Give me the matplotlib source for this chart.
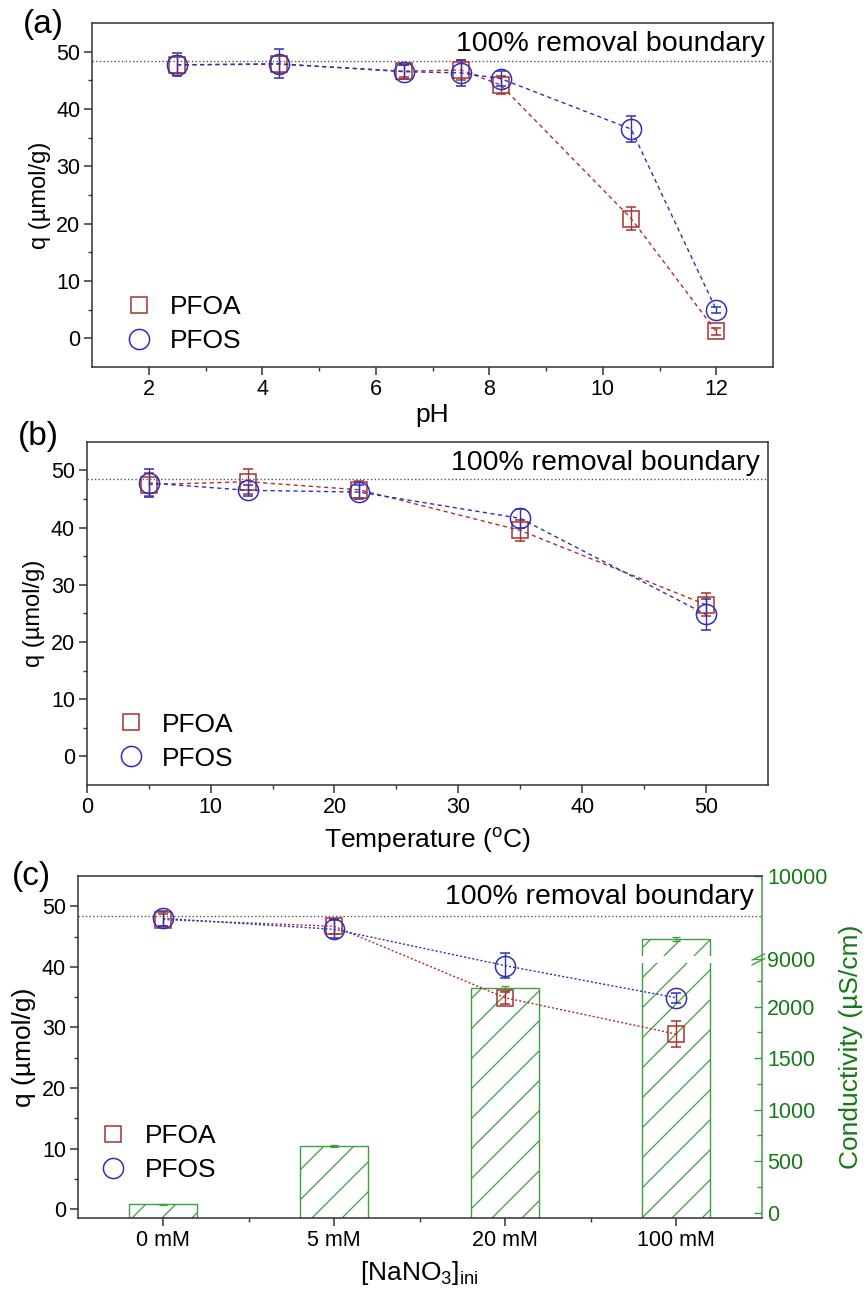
import numpy as np
import matplotlib
matplotlib.use('Agg')
import matplotlib.pyplot as plt
import matplotlib.transforms as mtransforms
from matplotlib.lines import Line2D
from matplotlib.patches import Rectangle
from matplotlib.collections import LineCollection

plt.rcParams['font.family'] = ['Liberation Sans', 'DejaVu Sans']
plt.rcParams['mathtext.default'] = 'regular'

RED = '#a8322e'
BLUE = '#2f2fb8'
GREEN = '#3f9f3f'
GREEN_TXT = '#157a15'
AXC = '#333333'

BOUNDARY = 48.4

# (a) pH
ph = [2.5, 4.3, 6.5, 7.5, 8.2, 10.5, 12.0]
pfoa_ph = [47.7, 47.8, 46.6, 46.8, 44.2, 20.9, 1.2]
pfoa_ph_err = [1.5, 1.5, 1.0, 1.8, 1.5, 2.0, 0.6]
pfos_ph = [47.7, 47.9, 46.5, 46.3, 45.3, 36.5, 5.0]
pfos_ph_err = [2.0, 2.5, 1.2, 2.3, 1.3, 2.3, 0.5]

# (b) temperature
temp = [5, 13, 22, 35, 50]
pfoa_t = [47.5, 48.0, 46.6, 39.5, 26.5]
pfoa_t_err = [2.0, 2.2, 1.5, 1.9, 2.0]
pfos_t = [47.8, 46.5, 46.2, 41.6, 24.8]
pfos_t_err = [2.5, 1.0, 1.3, 1.7, 2.7]

# (c) NaNO3
nano3 = ['0 mM', '5 mM', '20 mM', '100 mM']
pfoa_n = [47.8, 46.7, 34.9, 28.9]
pfoa_n_err = [1.0, 1.2, 1.0, 2.1]
pfos_n = [48.0, 46.2, 40.2, 34.9]
pfos_n_err = [1.2, 1.5, 2.1, 0.8]
cond = [80, 645, 2180, 9240]
cond_err = [5, 10, 25, 25]

# broken conductivity axis
BRK_LO = 2460
BRK_HI = 9000
UP_RATIO = 0.81


def cond_fwd(c):
    c = np.asarray(c, dtype=float)
    return np.where(c <= BRK_LO, c,
                    np.where(c >= BRK_HI, BRK_LO + (c - BRK_HI) * UP_RATIO, BRK_LO))


def cond_inv(p):
    p = np.asarray(p, dtype=float)
    return np.where(p <= BRK_LO, p, BRK_HI + (p - BRK_LO) / UP_RATIO)


W, H = 867, 1294
fig = plt.figure(figsize=(W / 100, H / 100), dpi=100)


def px_axes(left, right, top, bottom):
    return fig.add_axes([left / W, 1 - bottom / H, (right - left) / W, (bottom - top) / H])


def style_q(ax, ylab_size):
    for s in ax.spines.values():
        s.set_color(AXC)
        s.set_linewidth(1.1)
    ax.tick_params(which='both', direction='out', color=AXC, labelsize=15.5, top=False, right=False)
    ax.tick_params(which='major', length=5.5, width=1.1, pad=3)
    ax.tick_params(which='minor', length=3, width=1.0)
    ax.set_ylim(-5, 55)
    ax.set_yticks([0, 10, 20, 30, 40, 50])
    ax.set_yticks([5, 15, 25, 35, 45], minor=True)
    ax.set_ylabel('q (µmol/g)', fontsize=ylab_size, labelpad=4)
    ax.axhline(BOUNDARY, color='#555555', ls=':', lw=1.0, zorder=1)
    ax.text(0.988, 0.938, '100% removal boundary', transform=ax.transAxes,
            ha='right', va='center', fontsize=20.5)


def plot_series(ax, x, y, err, color, marker, ms, dash):
    ax.errorbar(x, y, yerr=err, color=color, ls=dash, lw=1.0, marker=marker, ms=ms,
                mfc='none', mec=color, mew=1.1, capsize=3.5, elinewidth=1.0,
                capthick=1.0, zorder=4)


def add_legend(ax, x, y):
    handles = [Line2D([], [], ls='none', marker='s', ms=12, mfc='none', mec=RED, mew=1.1, label='PFOA'),
               Line2D([], [], ls='none', marker='o', ms=14.5, mfc='none', mec=BLUE, mew=1.1, label='PFOS')]
    ax.legend(handles=handles, loc='lower left', bbox_to_anchor=(x, y), frameon=False,
              fontsize=19, handlelength=1.0, handletextpad=0.7, labelspacing=0.38,
              borderpad=0, borderaxespad=0)


# ---- (a) ----
ax_a = px_axes(92, 773, 23, 367)
style_q(ax_a, 17)
plot_series(ax_a, ph, pfoa_ph, pfoa_ph_err, RED, 's', 12, (0, (3, 2.5)))
plot_series(ax_a, ph, pfos_ph, pfos_ph_err, BLUE, 'o', 14.5, (0, (3, 2.5)))
ax_a.set_xlim(1, 13)
ax_a.set_xticks([2, 4, 6, 8, 10, 12])
ax_a.set_xticks([3, 5, 7, 9, 11], minor=True)
ax_a.set_xlabel('pH', fontsize=19, labelpad=2)
add_legend(ax_a, 0.049, 0.041)

# ---- (b) ----
ax_b = px_axes(86.7, 768, 441.7, 785)
style_q(ax_b, 17)
plot_series(ax_b, temp, pfoa_t, pfoa_t_err, RED, 's', 12, (0, (3, 2.5)))
plot_series(ax_b, temp, pfos_t, pfos_t_err, BLUE, 'o', 14.5, (0, (3, 2.5)))
ax_b.set_xlim(0, 55)
ax_b.set_xticks([0, 10, 20, 30, 40, 50])
ax_b.set_xticks([5, 15, 25, 35, 45], minor=True)
ax_b.set_xlabel('Temperature ($^{o}$C)', fontsize=19, labelpad=6)
add_legend(ax_b, 0.045, 0.042)

# ---- (c) ----
ax_c = px_axes(77.7, 761.7, 876, 1218.3)
ax_k = ax_c.twinx()
ax_c.set_zorder(ax_k.get_zorder() + 1)
ax_c.patch.set_visible(False)

style_q(ax_c, 19)
ax_c.spines['right'].set_visible(False)
xc = np.arange(len(nano3))
plot_series(ax_c, xc, pfoa_n, pfoa_n_err, RED, 's', 12, (0, (1.5, 1.5)))
plot_series(ax_c, xc, pfos_n, pfos_n_err, BLUE, 'o', 14.5, (0, (1.5, 1.5)))
ax_c.set_ylim(-1.5, 55)
ax_c.set_xlim(-0.5, 3.5)
ax_c.set_xticks(xc, nano3)
ax_c.set_xticks(xc[:-1] + 0.5, minor=True)
ax_c.set_xlabel('[NaNO$_3$]$_{ini}$', fontsize=19, labelpad=6)
add_legend(ax_c, 0.033, 0.105)

# conductivity bars on the broken right axis
ax_k.set_yscale('function', functions=(cond_fwd, cond_inv))
c_lo, c_hi = -55, 10000
ax_k.set_ylim(c_lo, c_hi)
bars = ax_k.bar(xc, np.array(cond) - c_lo, bottom=c_lo, width=0.4,
                facecolor='none', edgecolor=GREEN, linewidth=1.0)
ax_k.errorbar(xc, cond, yerr=cond_err, fmt='none', ecolor=GREEN, elinewidth=0.9,
              capsize=3, capthick=0.9)

# sparse diagonal hatching, clipped to each bar
fw, fh = fig.get_size_inches()
offs = np.arange(-fh, fw, 0.3)
segs = [[(o, 0), (o + fh, fh)] for o in offs]
for b in bars:
    lc = LineCollection(segs, colors=GREEN, linewidths=0.9, transform=fig.dpi_scale_trans)
    ax_k.add_collection(lc, autolim=False)
    lc.set_clip_path(b)

frac = float((cond_fwd(BRK_HI) - cond_fwd(c_lo)) / (cond_fwd(c_hi) - cond_fwd(c_lo)))
blend = mtransforms.blended_transform_factory(ax_k.transData, ax_k.transAxes)
last = bars[-1]
ax_k.add_patch(Rectangle((last.get_x() - 0.02, frac - 0.011), last.get_width() + 0.04, 0.022,
                         transform=blend, facecolor='white', edgecolor='none', zorder=3))
for d in (-0.007, 0.007):
    ax_k.plot([0.986, 1.004], [frac + d - 0.009, frac + d + 0.009], transform=ax_k.transAxes,
              color=GREEN, lw=1.0, clip_on=False, zorder=5)

for name in ('left', 'top', 'bottom'):
    ax_k.spines[name].set_visible(False)
ax_k.spines['right'].set_color(GREEN)
ax_k.spines['right'].set_linewidth(1.1)
kt = [0, 500, 1000, 1500, 2000, 9000, 10000]
ax_k.set_yticks(kt, [str(t) for t in kt])
ax_k.set_yticks([250, 750, 1250, 1750, 2250], minor=True)
ax_k.tick_params(which='both', direction='in', color=GREEN, labelcolor=GREEN_TXT, labelsize=15.5)
ax_k.tick_params(which='major', length=6, width=1.0, pad=4)
ax_k.tick_params(which='minor', length=3.5, width=1.0)
ax_k.set_ylabel('Conductivity (µS/cm)', fontsize=19, color=GREEN_TXT, labelpad=8)

fig.text(23 / W, 1 - 25 / H, '(a)', fontsize=24, va='center', ha='left')
fig.text(18 / W, 1 - 437 / H, '(b)', fontsize=24, va='center', ha='left')
fig.text(12 / W, 1 - 877 / H, '(c)', fontsize=24, va='center', ha='left')

fig.savefig('out.png', dpi=100)
